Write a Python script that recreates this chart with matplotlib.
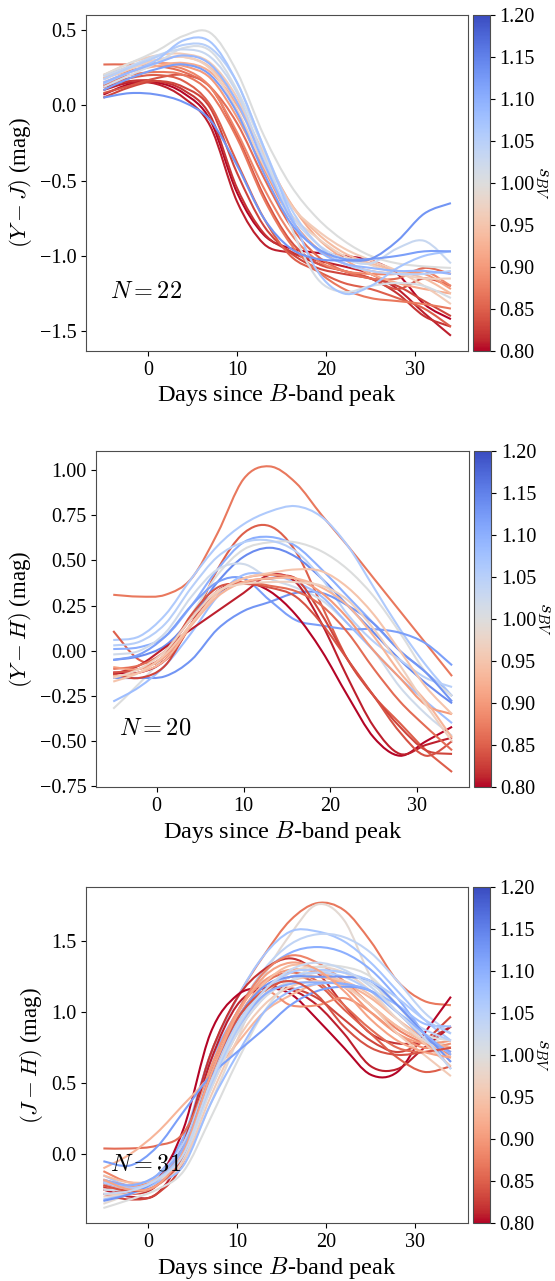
import numpy as np
import matplotlib
matplotlib.use("Agg")
import matplotlib.pyplot as plt
from matplotlib.colors import Normalize
from matplotlib.cm import ScalarMappable
from matplotlib.path import Path
from matplotlib.patches import PathPatch

plt.rcParams['font.family'] = ['Liberation Serif', 'DejaVu Serif']
plt.rcParams['mathtext.fontset'] = 'cm'
plt.rcParams['axes.unicode_minus'] = True

days = [-5, -2, 1, 4, 7, 10, 13, 16, 19, 22, 25, 28, 31, 34]

# ---------------- (Y - J) ----------------
yj_sbv = [0.80, 0.81, 0.82, 0.83, 0.84, 0.85, 0.86, 0.87, 0.88, 0.90, 0.92,
          0.94, 0.96, 0.97, 1.00, 1.01, 1.03, 1.05, 1.07, 1.09, 1.12, 1.13]
yj_vals = [
    [0.07, 0.14, 0.15, 0.08, -0.10, -0.58, -0.86, -0.95, -0.98, -1.00, -1.03, -1.12, -1.32, -1.42],
    [0.10, 0.15, 0.14, 0.05, -0.14, -0.64, -0.92, -0.98, -1.03, -1.07, -1.12, -1.22, -1.38, -1.53],
    [0.12, 0.16, 0.16, 0.10, -0.07, -0.55, -0.85, -0.97, -1.05, -1.10, -1.15, -1.25, -1.40, -1.47],
    [0.05, 0.12, 0.16, 0.12, -0.02, -0.45, -0.80, -0.98, -1.08, -1.12, -1.15, -1.20, -1.30, -1.40],
    [0.08, 0.13, 0.18, 0.20, 0.12, -0.20, -0.60, -0.90, -1.05, -1.10, -1.15, -1.22, -1.15, -1.20],
    [0.13, 0.18, 0.20, 0.16, 0.00, -0.38, -0.75, -1.00, -1.10, -1.18, -1.22, -1.28, -1.35, -1.47],
    [0.27, 0.27, 0.26, 0.22, 0.12, -0.12, -0.48, -0.80, -1.00, -1.10, -1.15, -1.15, -1.08, -1.12],
    [0.14, 0.20, 0.22, 0.20, 0.08, -0.22, -0.62, -0.92, -1.10, -1.22, -1.28, -1.30, -1.32, -1.35],
    [0.18, 0.23, 0.26, 0.24, 0.12, -0.18, -0.55, -0.85, -1.03, -1.10, -1.12, -1.12, -1.10, -1.20],
    [0.20, 0.25, 0.28, 0.26, 0.18, -0.08, -0.42, -0.75, -0.95, -1.05, -1.10, -1.12, -1.12, -1.22],
    [0.15, 0.22, 0.26, 0.28, 0.22, 0.00, -0.33, -0.65, -0.88, -1.02, -1.12, -1.18, -1.22, -1.25],
    [0.18, 0.26, 0.30, 0.32, 0.25, 0.02, -0.32, -0.65, -0.85, -0.98, -1.05, -1.10, -1.15, -1.25],
    [0.20, 0.28, 0.33, 0.34, 0.28, 0.05, -0.33, -0.66, -0.83, -0.95, -1.03, -1.10, -1.20, -1.32],
    [0.17, 0.24, 0.30, 0.32, 0.24, -0.03, -0.40, -0.72, -0.88, -1.00, -1.06, -1.12, -1.15, -1.15],
    [0.20, 0.28, 0.36, 0.46, 0.48, 0.22, -0.20, -0.53, -0.75, -0.90, -1.00, -1.05, -1.07, -1.08],
    [0.12, 0.20, 0.28, 0.38, 0.36, 0.10, -0.30, -0.80, -1.15, -1.24, -1.20, -1.18, -1.20, -1.28],
    [0.19, 0.26, 0.33, 0.37, 0.32, 0.08, -0.35, -0.72, -0.92, -1.02, -1.05, -0.95, -0.90, -1.05],
    [0.17, 0.25, 0.32, 0.40, 0.38, 0.15, -0.28, -0.68, -0.92, -1.05, -1.10, -1.12, -1.12, -1.10],
    [0.14, 0.22, 0.30, 0.43, 0.42, 0.15, -0.28, -0.72, -1.10, -1.25, -1.20, -1.08, -1.00, -0.97],
    [0.15, 0.22, 0.28, 0.33, 0.27, 0.02, -0.38, -0.75, -0.96, -1.05, -1.08, -1.10, -1.10, -1.12],
    [0.10, 0.18, 0.24, 0.27, 0.20, -0.05, -0.45, -0.78, -0.95, -1.02, -1.02, -1.00, -0.97, -0.97],
    [0.05, 0.08, 0.07, 0.02, -0.10, -0.40, -0.75, -0.95, -1.02, -1.03, -1.02, -0.90, -0.72, -0.65],
]

# ---------------- (Y - H) ----------------
yh_sbv = [0.87, 1.06, 0.85, 1.10, 1.14, 1.00, 1.05, 1.02, 1.12, 1.13,
          1.08, 0.80, 0.81, 0.83, 0.84, 0.86, 0.90, 0.93, 0.95, 0.97]
yh_vals = [
    [0.31, 0.30, 0.31, 0.40, 0.65, 0.95, 1.02, 0.93, 0.75, 0.58, 0.40, 0.22, 0.04, -0.14],
    [0.06, 0.08, 0.20, 0.40, 0.58, 0.70, 0.77, 0.80, 0.74, 0.58, 0.35, 0.12, -0.08, -0.25],
    [0.11, -0.05, -0.05, 0.15, 0.45, 0.65, 0.69, 0.55, 0.25, -0.05, -0.25, -0.40, -0.55, -0.67],
    [0.01, 0.02, 0.08, 0.25, 0.45, 0.60, 0.63, 0.58, 0.45, 0.30, 0.15, 0.00, -0.12, -0.25],
    [-0.05, -0.03, 0.03, 0.18, 0.38, 0.52, 0.57, 0.52, 0.40, 0.25, 0.10, -0.05, -0.18, -0.29],
    [-0.32, -0.18, -0.02, 0.20, 0.42, 0.56, 0.60, 0.60, 0.55, 0.45, 0.30, 0.10, -0.12, -0.25],
    [0.03, 0.05, 0.15, 0.35, 0.52, 0.60, 0.61, 0.55, 0.40, 0.20, 0.05, -0.05, -0.15, -0.20],
    [-0.02, 0.00, 0.10, 0.30, 0.45, 0.48, 0.40, 0.35, 0.28, 0.15, 0.00, -0.20, -0.35, -0.47],
    [-0.05, -0.02, 0.08, 0.25, 0.38, 0.40, 0.28, 0.17, 0.14, 0.12, 0.12, 0.10, 0.04, -0.08],
    [-0.15, -0.15, -0.14, -0.05, 0.12, 0.22, 0.27, 0.32, 0.32, 0.25, 0.15, 0.00, -0.12, -0.28],
    [-0.28, -0.20, -0.08, 0.10, 0.30, 0.42, 0.42, 0.38, 0.30, 0.15, 0.00, -0.15, -0.28, -0.40],
    [-0.12, -0.12, -0.05, 0.15, 0.33, 0.38, 0.33, 0.20, 0.00, -0.25, -0.48, -0.58, -0.50, -0.42],
    [-0.13, -0.08, 0.02, 0.12, 0.22, 0.32, 0.42, 0.38, 0.15, -0.15, -0.42, -0.57, -0.52, -0.48],
    [-0.13, -0.15, -0.08, 0.15, 0.32, 0.38, 0.40, 0.40, 0.20, -0.05, -0.25, -0.42, -0.55, -0.57],
    [-0.12, -0.10, -0.02, 0.20, 0.35, 0.37, 0.35, 0.30, 0.15, -0.05, -0.25, -0.45, -0.58, -0.50],
    [-0.10, -0.08, 0.00, 0.18, 0.33, 0.38, 0.36, 0.33, 0.25, 0.10, -0.10, -0.28, -0.42, -0.55],
    [-0.09, -0.10, -0.03, 0.15, 0.32, 0.40, 0.42, 0.40, 0.32, 0.18, 0.00, -0.15, -0.30, -0.35],
    [-0.14, -0.12, -0.05, 0.14, 0.30, 0.38, 0.40, 0.40, 0.35, 0.25, 0.08, -0.12, -0.28, -0.48],
    [-0.17, -0.12, -0.02, 0.15, 0.32, 0.40, 0.43, 0.45, 0.44, 0.35, 0.20, 0.00, -0.20, -0.35],
    [-0.15, -0.10, 0.00, 0.18, 0.33, 0.37, 0.38, 0.38, 0.36, 0.28, 0.12, -0.08, -0.30, -0.50],
]

# ---------------- (J - H) ----------------
jh_sbv = [0.87, 0.99, 1.07, 1.04, 1.10, 0.82, 0.80, 0.81, 0.83, 0.85, 0.86,
          0.93, 0.88, 0.89, 0.90, 0.92, 0.94, 0.95, 0.96, 0.98, 1.00, 1.02,
          1.05, 1.08, 1.12, 1.13, 1.10, 1.06, 0.84, 0.91, 1.03]
jh_vals = [
    [-0.20, -0.25, -0.20, 0.08, 0.70, 1.10, 1.40, 1.65, 1.77, 1.72, 1.50, 1.22, 1.08, 1.05],
    [-0.35, -0.28, -0.20, -0.05, 0.35, 0.80, 1.25, 1.55, 1.76, 1.65, 1.25, 1.00, 0.85, 0.75],
    [-0.15, -0.22, -0.15, 0.12, 0.70, 1.10, 1.40, 1.57, 1.57, 1.50, 1.35, 1.15, 0.95, 0.80],
    [-0.20, -0.25, -0.18, 0.08, 0.60, 1.00, 1.30, 1.48, 1.55, 1.53, 1.42, 1.22, 1.00, 0.85],
    [-0.22, -0.25, -0.15, 0.12, 0.65, 1.00, 1.28, 1.42, 1.46, 1.42, 1.30, 1.10, 0.85, 0.60],
    [-0.23, -0.28, -0.22, 0.08, 0.70, 1.10, 1.30, 1.38, 1.28, 1.05, 0.85, 0.78, 0.80, 0.90],
    [-0.20, -0.24, -0.18, 0.18, 0.85, 1.12, 1.17, 1.13, 0.95, 0.75, 0.56, 0.58, 0.85, 1.11],
    [-0.25, -0.30, -0.28, 0.02, 0.65, 1.05, 1.17, 1.16, 1.05, 0.85, 0.62, 0.60, 0.75, 0.90],
    [-0.28, -0.32, -0.28, -0.05, 0.55, 0.95, 1.15, 1.17, 1.10, 0.95, 0.80, 0.72, 0.80, 0.97],
    [-0.22, -0.27, -0.22, 0.00, 0.50, 0.90, 1.12, 1.25, 1.20, 1.02, 0.85, 0.68, 0.58, 0.62],
    [0.04, 0.04, 0.06, 0.15, 0.55, 0.95, 1.20, 1.28, 1.22, 1.05, 0.88, 0.75, 0.72, 0.75],
    [-0.10, 0.00, 0.15, 0.35, 0.55, 0.78, 1.00, 1.12, 1.20, 1.20, 1.10, 0.95, 0.82, 0.72],
    [-0.12, -0.20, -0.18, 0.03, 0.60, 1.00, 1.28, 1.40, 1.35, 1.22, 1.05, 0.88, 0.78, 0.70],
    [-0.18, -0.22, -0.18, 0.03, 0.55, 0.95, 1.15, 1.05, 1.05, 1.10, 1.00, 0.85, 0.75, 0.78],
    [-0.20, -0.23, -0.18, 0.05, 0.60, 1.00, 1.22, 1.30, 1.28, 1.18, 1.00, 0.85, 0.78, 0.80],
    [-0.25, -0.25, -0.20, 0.00, 0.50, 0.90, 1.15, 1.25, 1.25, 1.20, 1.05, 0.90, 0.80, 0.75],
    [-0.15, -0.20, -0.17, 0.03, 0.55, 0.95, 1.20, 1.33, 1.30, 1.20, 1.05, 0.90, 0.80, 0.68],
    [-0.22, -0.25, -0.20, 0.00, 0.45, 0.85, 1.10, 1.22, 1.25, 1.22, 1.12, 0.95, 0.78, 0.62],
    [-0.28, -0.28, -0.22, -0.05, 0.40, 0.80, 1.05, 1.18, 1.22, 1.18, 1.05, 0.85, 0.70, 0.55],
    [-0.30, -0.28, -0.20, -0.02, 0.45, 0.85, 1.12, 1.28, 1.32, 1.28, 1.15, 0.95, 0.80, 0.72],
    [-0.38, -0.32, -0.25, -0.12, 0.25, 0.65, 1.00, 1.22, 1.32, 1.32, 1.25, 1.05, 0.85, 0.80],
    [-0.25, -0.25, -0.18, -0.02, 0.45, 0.85, 1.10, 1.22, 1.28, 1.28, 1.20, 1.05, 0.85, 0.65],
    [-0.20, -0.22, -0.15, 0.08, 0.55, 0.92, 1.15, 1.25, 1.28, 1.25, 1.15, 1.00, 0.88, 0.80],
    [-0.32, -0.28, -0.20, -0.08, 0.35, 0.70, 1.00, 1.15, 1.20, 1.20, 1.15, 1.05, 0.92, 0.90],
    [-0.05, -0.08, 0.05, 0.30, 0.55, 0.72, 0.88, 1.05, 1.15, 1.18, 1.15, 1.00, 0.82, 0.72],
    [-0.33, -0.28, -0.18, 0.03, 0.55, 0.95, 1.18, 1.25, 1.25, 1.25, 1.22, 1.05, 0.85, 0.65],
    [-0.18, -0.22, -0.15, 0.05, 0.50, 0.88, 1.12, 1.20, 1.21, 1.20, 1.15, 1.00, 0.85, 0.70],
    [-0.20, -0.24, -0.18, 0.02, 0.48, 0.88, 1.15, 1.28, 1.30, 1.28, 1.22, 1.10, 0.95, 0.85],
    [-0.22, -0.26, -0.22, 0.00, 0.55, 0.95, 1.15, 1.22, 1.12, 0.90, 0.75, 0.70, 0.72, 0.75],
    [-0.18, -0.25, -0.22, 0.02, 0.55, 0.98, 1.25, 1.35, 1.30, 1.15, 0.95, 0.80, 0.72, 0.68],
    [-0.28, -0.26, -0.18, 0.00, 0.50, 0.90, 1.15, 1.30, 1.35, 1.30, 1.18, 1.00, 0.82, 0.60],
]

ylabels = [r'$(Y-J)$ (mag)', r'$(Y-H)$ (mag)', r'$(J-H)$ (mag)']
ntexts = [r'$N=22$', r'$N=20$', r'$N=31$']
cbar_ticks = [0.80, 0.85, 0.90, 0.95, 1.00, 1.05, 1.10, 1.15, 1.20]


def smooth_path(x, y):
    """Cubic Bezier (Catmull-Rom) path through the read points."""
    x = np.asarray(x, float)
    y = np.asarray(y, float)
    n = len(x)
    verts = [(x[0], y[0])]
    codes = [Path.MOVETO]
    for i in range(n - 1):
        i0 = max(i - 1, 0)
        i3 = min(i + 2, n - 1)
        c1 = (x[i] + (x[i + 1] - x[i0]) / 6.0, y[i] + (y[i + 1] - y[i0]) / 6.0)
        c2 = (x[i + 1] - (x[i3] - x[i]) / 6.0, y[i + 1] - (y[i3] - y[i]) / 6.0)
        verts += [c1, c2, (x[i + 1], y[i + 1])]
        codes += [Path.CURVE4] * 3
    return Path(verts, codes)


W, H = 555, 1281
fig = plt.figure(figsize=(W / 100, H / 100), dpi=100)

# pixel boxes: (left, right, top, bottom) for axes; (left, right) for colorbar
boxes = [(86, 468.3, 15, 351, 472.6, 489.6),
         (96.3, 469, 451, 787.3, 473.6, 491),
         (86, 468.3, 887.3, 1223.3, 472.6, 489.6)]

cmap = plt.get_cmap('coolwarm_r')
norm = Normalize(vmin=0.8, vmax=1.2)

panels = [(yj_sbv, yj_vals), (yh_sbv, yh_vals), (jh_sbv, jh_vals)]
for i, ((sbv, vals), (l, r, t, b, cl, cr)) in enumerate(zip(panels, boxes)):
    ax = fig.add_axes([l / W, (H - b) / H, (r - l) / W, (b - t) / H])
    cax = fig.add_axes([cl / W, (H - b) / H, (cr - cl) / W, (b - t) / H])
    for s, v in zip(sbv, vals):
        ax.add_patch(PathPatch(smooth_path(days, v), facecolor='none',
                               edgecolor=cmap(norm(s)), lw=1.5))
    ax.autoscale_view()
    ax.set_xlabel(r'Days since $B$-band peak', fontsize=17.5, labelpad=2)
    ax.set_ylabel(ylabels[i], fontsize=16.5, labelpad=4)
    ax.tick_params(labelsize=14.5)
    ax.text(0.062, 0.173, ntexts[i], transform=ax.transAxes, fontsize=17.5,
            va='center', ha='left')
    for sp in ax.spines.values():
        sp.set_color('0.3')
    sm = ScalarMappable(norm=norm, cmap=cmap)
    cb = fig.colorbar(sm, cax=cax, ticks=cbar_ticks)
    cb.ax.tick_params(labelsize=14.5)
    cb.ax.set_yticklabels([f'{t:.2f}' for t in cbar_ticks])
    cb.set_label(r'$s_{BV}$', rotation=270, fontsize=15, va='center')
    cb.ax.yaxis.set_label_coords(4.1, 0.5)
    cb.outline.set_edgecolor('0.3')

fig.savefig('out.png', dpi=100)
